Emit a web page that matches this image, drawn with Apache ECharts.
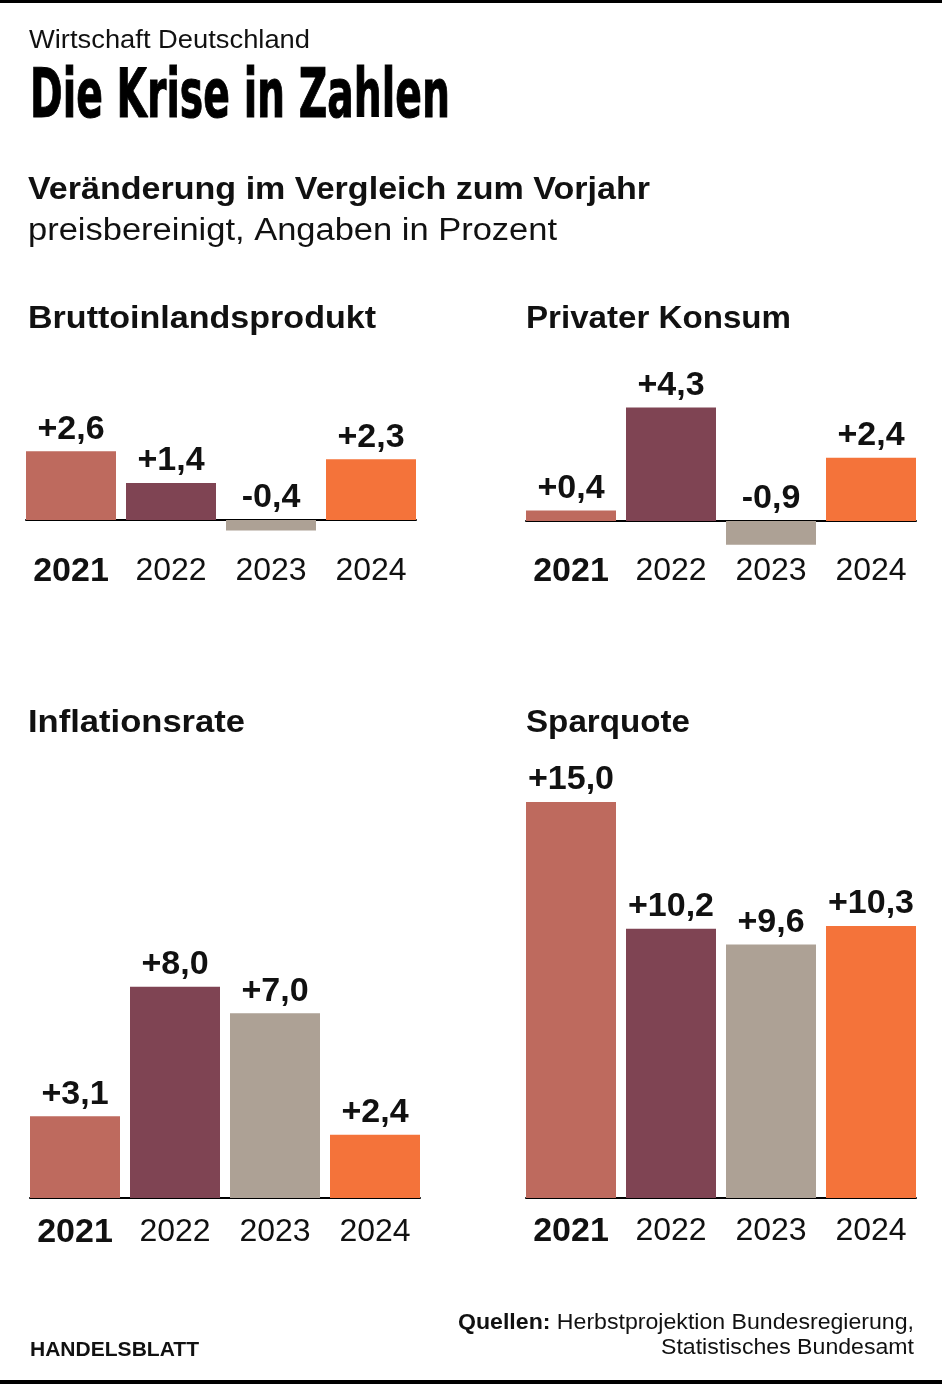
<!DOCTYPE html>
<html><head><meta charset="utf-8">
<script src="https://cdn.jsdelivr.net/npm/echarts@6/dist/echarts.min.js"></script>
<style>html,body{margin:0;padding:0;background:#fff}#c{width:942px;height:1384px}</style>
</head><body><div id="c"></div>
<script>
// ---- data ----
const categories = ['2021', '2022', '2023', '2024'];
const bipValues = [2.6, 1.4, -0.4, 2.3];
const konsumValues = [0.4, 4.3, -0.9, 2.4];
const inflationValues = [3.1, 8.0, 7.0, 2.4];
const sparquoteValues = [15.0, 10.2, 9.6, 10.3];
const panelTitles = ['Bruttoinlandsprodukt', 'Privater Konsum', 'Inflationsrate', 'Sparquote'];

// ---- style ----
const yearColors = ['#BE6A5E', '#7F4453', '#ADA195', '#F4733A'];
const FONT = '"Liberation Sans", Arial, sans-serif';
const TITLE_FONT = '"Liberation Sans Narrow", "DejaVu Sans Condensed", sans-serif';
const TXT = '#111';
const PPU = 26.4;   // pixels per percentage point (same scale for all panels)
const SLOT = 100;   // pixels per year slot
const BAR = 90;     // bar width
const PAD = (BAR / 2) / SLOT; // half bar, in slot units: baseline ends flush with outer bars

const panels = [
  { values: bipValues,       left: 26,  base: 520,  min: -1, max: 3,  margin: 8.5, tx: 28,  ty: 319, tw: 348 },
  { values: konsumValues,    left: 526, base: 521,  min: -1, max: 5,  margin: 7.5, tx: 526, ty: 319, tw: 265 },
  { values: inflationValues, left: 30,  base: 1198, min: 0,  max: 9,  margin: 18,  tx: 28,  ty: 723, tw: 217 },
  { values: sparquoteValues, left: 526, base: 1198, min: 0,  max: 16, margin: 17,  tx: 526, ty: 723, tw: 164 }
];

const fmt = v => (v > 0 ? '+' : '') + v.toFixed(1).replace('.', ',');

// horizontal fit of a text to the width it has in the reference
const ctx = document.createElement('canvas').getContext('2d');
function fitScale(parts, target) {
  let w = 0;
  parts.forEach(([t, f]) => { ctx.font = f; w += ctx.measureText(t).width; });
  return target / w;
}

const idx = categories.map((c, i) => i);
const xMin = -PAD, xMax = categories.length - 1 + PAD;

const grids = [], xAxes = [], yAxes = [], series = [], graphics = [];
panels.forEach((p, i) => {
  grids.push({ left: p.left, width: (xMax - xMin) * SLOT, top: p.base - p.max * PPU, height: (p.max - p.min) * PPU, containLabel: false });
  xAxes.push({
    type: 'value', gridIndex: i, min: xMin, max: xMax,
    splitLine: { show: false },
    axisTick: { show: false },
    axisLine: { onZero: true, lineStyle: { color: '#000', width: 2 } },
    axisLabel: {
      customValues: idx, margin: p.margin,
      formatter: v => { const k = Math.round(v); return k === 0 ? '{b|' + categories[k] + '}' : '{r|' + categories[k] + '}'; },
      rich: {
        b: { fontFamily: FONT, fontSize: 34, fontWeight: 'bold', color: TXT },
        r: { fontFamily: FONT, fontSize: 32, color: TXT }
      }
    }
  });
  yAxes.push({ type: 'value', gridIndex: i, min: p.min, max: p.max, show: false, splitLine: { show: false } });
  series.push({
    type: 'bar', xAxisIndex: i, yAxisIndex: i, barWidth: BAR, silent: true,
    data: p.values.map((v, j) => ({ value: [j, v], itemStyle: { color: yearColors[j] } })),
    label: {
      show: true, position: 'top', distance: 5,
      fontFamily: FONT, fontSize: 34, fontWeight: 'bold', color: TXT,
      formatter: d => fmt(d.value[1])
    }
  });
  const sc = fitScale([[panelTitles[i], 'bold 32px ' + FONT]], p.tw);
  graphics.push({ type: 'text', x: p.tx, y: p.ty, scaleX: sc,
    style: { text: panelTitles[i], fontFamily: FONT, fontSize: 32, fontWeight: 'bold', fill: TXT, verticalAlign: 'middle' } });
});

const header = [
  { text: 'Wirtschaft Deutschland', x: 29, y: 41, size: 25, bold: false, w: 281 },
  { text: 'Veränderung im Vergleich zum Vorjahr', x: 28, y: 190, size: 31, bold: true, w: 622 },
  { text: 'preisbereinigt, Angaben in Prozent', x: 28, y: 231, size: 31, bold: false, w: 529 },
  { text: 'HANDELSBLATT', x: 30, y: 1350, size: 21, bold: true, w: 169 }
];
header.forEach(h => {
  const f = (h.bold ? 'bold ' : '') + h.size + 'px ' + FONT;
  graphics.push({ type: 'text', x: h.x, y: h.y, scaleX: fitScale([[h.text, f]], h.w),
    style: { text: h.text, fontFamily: FONT, fontSize: h.size, fontWeight: h.bold ? 'bold' : 'normal', fill: TXT, verticalAlign: 'middle' } });
});

const qScale = fitScale([['Quellen:', 'bold 22px ' + FONT], [' Herbstprojektion Bundesregierung,', '22px ' + FONT]], 456);
const sScale = fitScale([['Statistisches Bundesamt', '22px ' + FONT]], 253);
const tScale = fitScale([['Die Krise in Zahlen', 'bold 68px ' + TITLE_FONT]], 420);

graphics.push(
  { type: 'rect', shape: { x: 0, y: 0, width: 942, height: 3 }, style: { fill: '#000' } },
  { type: 'rect', shape: { x: 0, y: 1380, width: 942, height: 4 }, style: { fill: '#000' } },
  { type: 'text', x: 30, y: 99, scaleX: tScale, style: { text: 'Die Krise in Zahlen', fontFamily: TITLE_FONT, fontSize: 68, fontWeight: 'bold', fill: '#000', stroke: '#000', lineWidth: 1, verticalAlign: 'middle' } },
  { type: 'text', x: 914, y: 1323, scaleX: qScale, style: { text: '{b|Quellen:} Herbstprojektion Bundesregierung,', fontFamily: FONT, fontSize: 22, fill: TXT, align: 'right', verticalAlign: 'middle',
      rich: { b: { fontFamily: FONT, fontSize: 22, fontWeight: 'bold', fill: TXT } } } },
  { type: 'text', x: 914, y: 1348, scaleX: sScale, style: { text: 'Statistisches Bundesamt', fontFamily: FONT, fontSize: 22, fill: TXT, align: 'right', verticalAlign: 'middle' } }
);

const chart = echarts.init(document.getElementById('c'), null, { renderer: 'canvas' });
chart.setOption({
  animation: false,
  backgroundColor: '#fff',
  grid: grids, xAxis: xAxes, yAxis: yAxes, series: series,
  graphic: graphics
});
</script></body></html>
